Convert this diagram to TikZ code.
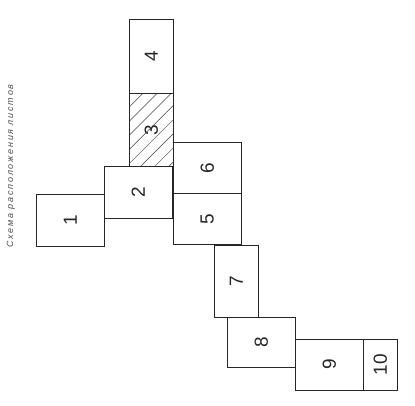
\documentclass[tikz,border=0pt]{standalone}
\usepackage{fontspec}
\setmainfont{Liberation Sans}
\usepackage{tikz}
\usetikzlibrary{positioning, patterns.meta}
\tikzstyle{sheet} = [draw=black!85, line width=0.6pt, inner sep=0pt, anchor=north west, font=\fontsize{19}{19}\selectfont, text=black!85]

\begin{document}
\begin{tikzpicture}[x=1pt, y=-1pt]
			\useasboundingbox (0,0) rectangle (415,406);
			\node[sheet, minimum width=68pt, minimum height=52pt] (sheet 1)  at (36,194)  {\rotatebox{90}{1}};
			\node[sheet, minimum width=68pt, minimum height=52pt] (sheet 2)  at (104,166) {\rotatebox{90}{2}};
			\node[sheet, minimum width=44pt, minimum height=73pt, pattern={Lines[angle=45, distance=10pt, line width=0.5pt]}, pattern color=black!75] (sheet 3)  at (129,93) {};
			\node at (sheet 3.center) (label 3) {\fontsize{19}{19}\selectfont\color{black!85}\rotatebox{90}{3}};
			\node[sheet, minimum width=44pt, minimum height=74pt] (sheet 4)  at (129,19)  {\rotatebox{90}{4}};
			\node[sheet, minimum width=68pt, minimum height=51pt] (sheet 6)  at (173,142) {\rotatebox{90}{6}};
			\node[sheet, minimum width=68pt, minimum height=51pt] (sheet 5)  at (173,193) {\rotatebox{90}{5}};
			\node[sheet, minimum width=44pt, minimum height=72pt] (sheet 7)  at (214,245) {\rotatebox{90}{7}};
			\node[sheet, minimum width=68pt, minimum height=50pt] (sheet 8)  at (227,317) {\rotatebox{90}{8}};
			\node[sheet, minimum width=68pt, minimum height=50.5pt] (sheet 9)  at (295,339) {\rotatebox{90}{9}};
			\node[sheet, minimum width=34pt, minimum height=50.5pt] (sheet 10) at (363,339) {\rotatebox{90}{10}};
			\node[rotate=90, text=black!70, font=\fontsize{9}{9}\selectfont\itshape\addfontfeature{LetterSpace=20}] (title) at (11,166) {Схема расположения листов};
		\end{tikzpicture}
\end{document}
